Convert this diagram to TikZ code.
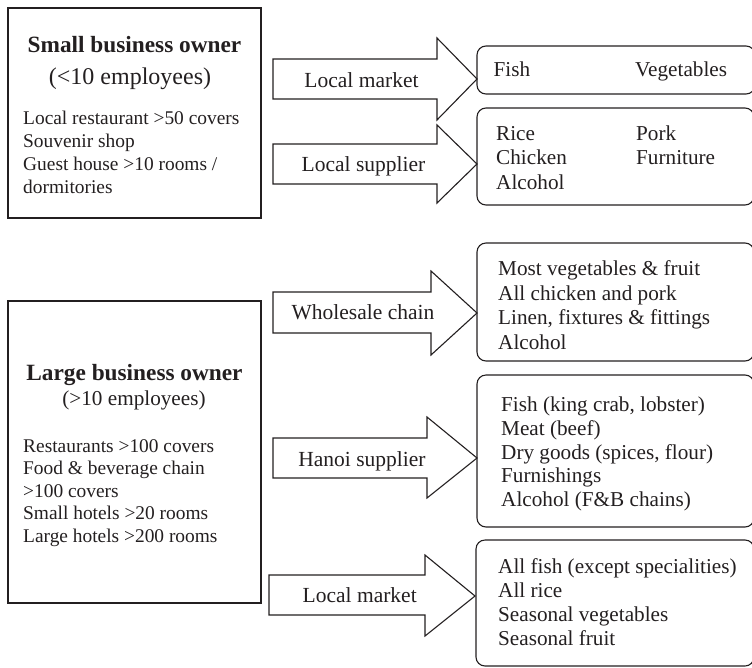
\documentclass[tikz,border=0pt]{standalone}
\usepackage{fontspec}
\setmainfont{Liberation Serif}
\definecolor{ink}{HTML}{231F20}
\begin{document}
\begin{tikzpicture}[x=1pt,y=-1pt,
  line/.style={draw=ink,line width=1.1pt,line join=miter},
  ownerbox/.style={line,inner sep=0pt},
  itembox/.style={line,rounded corners=9pt},
  blockarrow/.style={line,fill=white},
  titletext/.style={text=ink,inner sep=0pt,anchor=base,font=\fontsize{23.3}{26}\selectfont\bfseries},
  subtext/.style={text=ink,inner sep=0pt,anchor=base},
  bodytext/.style={text=ink,inner sep=0pt,anchor=base west,font=\fontsize{19.4}{22}\selectfont},
  arrowtext/.style={text=ink,inner sep=0pt,anchor=base,font=\fontsize{21.5}{24}\selectfont},
  itemtext/.style={text=ink,inner sep=0pt,anchor=base west,font=\fontsize{21.2}{24}\selectfont}]
\useasboundingbox (0,0) rectangle (752,667);

% owner boxes
\draw[ownerbox] (8,8) rectangle (261,218);
\node[titletext] (t1) at (134.5,52) {Small business owner};
\node[subtext,font=\fontsize{24}{27}\selectfont] (s1) at (130,84) {(<10 employees)};
\foreach \t [count=\i from 0] in {Local restaurant >50 covers,Souvenir shop,Guest house >10 rooms /,dormitories}
  \node[bodytext] (a\i) at (23,124+23*\i) {\t};

\draw[ownerbox] (8,301) rectangle (261,603);
\node[titletext] (t2) at (134.5,380) {Large business owner};
\node[subtext,font=\fontsize{21.2}{24}\selectfont] (s2) at (134,405) {(>10 employees)};
\foreach \t [count=\i from 0] in {Restaurants >100 covers,Food \& beverage chain,>100 covers,Small hotels >20 rooms,Large hotels >200 rooms}
  \node[bodytext] (b\i) at (23,452+22.5*\i) {\t};

% item boxes (right edges run past the picture's border, as in the reference)
\draw[itembox] (477,46) rectangle (755,94);
\draw[itembox] (477,108) rectangle (754,205);
\draw[itembox] (477,243) rectangle (754,361);
\draw[itembox] (477,375) rectangle (754,527);
\draw[itembox] (476,540) rectangle (754,666);

\node[itemtext] (r1a) at (493.5,76) {Fish};
\node[itemtext] (r1b) at (635,76) {Vegetables};
\foreach \t [count=\i from 0] in {Rice,Chicken,Alcohol}
  \node[itemtext] (r2a\i) at (496,140+24.7*\i) {\t};
\foreach \t [count=\i from 0] in {Pork,Furniture}
  \node[itemtext] (r2b\i) at (636,140+24.7*\i) {\t};
\foreach \t [count=\i from 0] in {Most vegetables \& fruit,All chicken and pork,{Linen, fixtures \& fittings},Alcohol}
  \node[itemtext] (r3\i) at (498,275.7+24.5*\i) {\t};
\foreach \t [count=\i from 0] in {{Fish (king crab, lobster)},Meat (beef),{Dry goods (spices, flour)},Furnishings,Alcohol (F\&B chains)}
  \node[itemtext] (r4\i) at (501,411.7+23.7*\i) {\t};
\foreach \t [count=\i from 0] in {All fish (except specialities),All rice,Seasonal vegetables,Seasonal fruit}
  \node[itemtext] (r5\i) at (498,573.3+23.9*\i) {\t};

% block arrows
\draw[blockarrow] (273,59) -- (437,59) -- (437,38) -- (477,79) -- (437,120) -- (437,99) -- (273,99) -- cycle;
\node[arrowtext] (l1) at (361.5,87.3) {Local market};
\draw[blockarrow] (273,144) -- (437,144) -- (437,125) -- (477,164) -- (437,203) -- (437,184) -- (273,184) -- cycle;
\node[arrowtext] (l2) at (363.5,171.7) {Local supplier};
\draw[blockarrow] (273,292) -- (431,292) -- (431,271) -- (477,313) -- (431,355) -- (431,333) -- (273,333) -- cycle;
\node[arrowtext] (l3) at (363,319.3) {Wholesale chain};
\draw[blockarrow] (273,438) -- (427,438) -- (427,417) -- (477,458) -- (427,498) -- (427,478) -- (273,478) -- cycle;
\node[arrowtext] (l4) at (362,466) {Hanoi supplier};
\draw[blockarrow] (269,575) -- (425,575) -- (425,555) -- (475,596) -- (425,636) -- (425,615) -- (269,615) -- cycle;
\node[arrowtext] (l5) at (359.7,602.7) {Local market};
\end{tikzpicture}
\end{document}
